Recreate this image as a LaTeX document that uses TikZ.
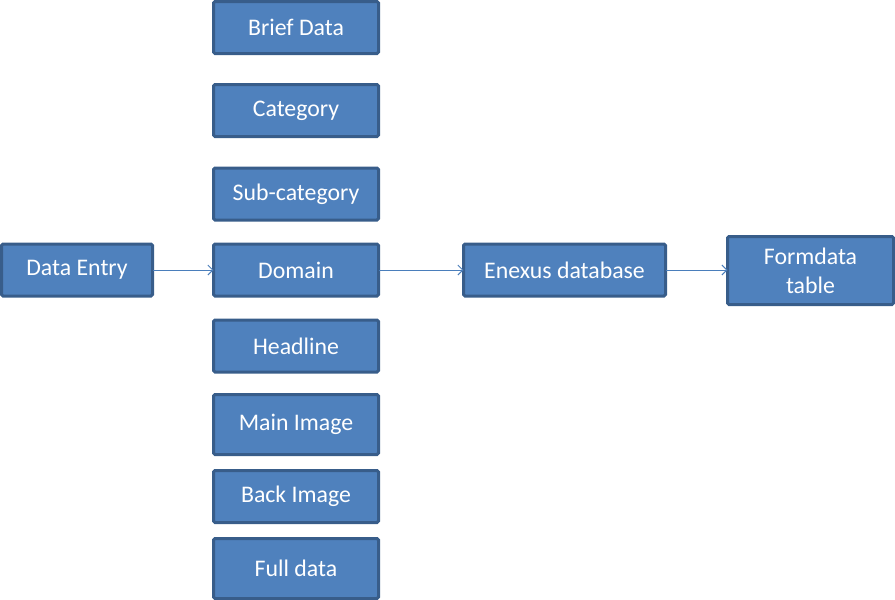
\documentclass[tikz,border=0pt]{standalone}
\usepackage{fontspec}
\setmainfont{Carlito}
\usetikzlibrary{arrows.meta, positioning}
\definecolor{boxfill}{HTML}{4F81BD}
\definecolor{boxline}{HTML}{385D8A}
\definecolor{linkblue}{HTML}{4A7EBB}
\begin{document}
\begin{tikzpicture}[x=1pt, y=-1pt]
        \tikzset{fieldbox/.style={draw=boxline, fill=boxfill, line width=3pt, rounded corners=1.5pt,
                text=white, align=center, inner sep=0pt, outer sep=0pt,
                font=\fontsize{23.8}{29}\selectfont, minimum width=165pt, minimum height=52pt},
                link/.style={draw=linkblue, line width=0.9pt, -{Straight Barb[length=5pt, width=10pt]}}}
        \useasboundingbox (0,0) rectangle (895,600);
        % fields of the entry form
        \node [fieldbox] (brief) at (296,27.5) {Brief Data};
        \node [fieldbox] (category) at (296,110.5) {Category};
        \node [fieldbox] (subcat) at (296,194) {Sub-category};
        \node [fieldbox] (domain) at (296,270) {Domain};
        \node [fieldbox] (headline) at (296,346) {Headline};
        \node [fieldbox, minimum height=60pt] (mainimg) at (296,424.5) {Main Image};
        \node [fieldbox] (backimg) at (296,496.5) {Back Image};
        \node [fieldbox, minimum height=60pt] (fulldata) at (296,568.5) {Full data};
        % flow
        \node [fieldbox, minimum width=151pt] (entry) at (77,270) {Data Entry};
        \node [fieldbox, minimum width=202pt] (enexus) at (564.5,270) {Enexus database};
        \node [fieldbox, minimum width=166pt, minimum height=68pt] (formdata) at (810.5,270.5) {Formdata\\table};
        \draw [link] (entry) -- (domain);
        \draw [link] (domain) -- (enexus);
        \draw [link] (enexus) -- (formdata.west |- enexus);
\end{tikzpicture}
\end{document}
